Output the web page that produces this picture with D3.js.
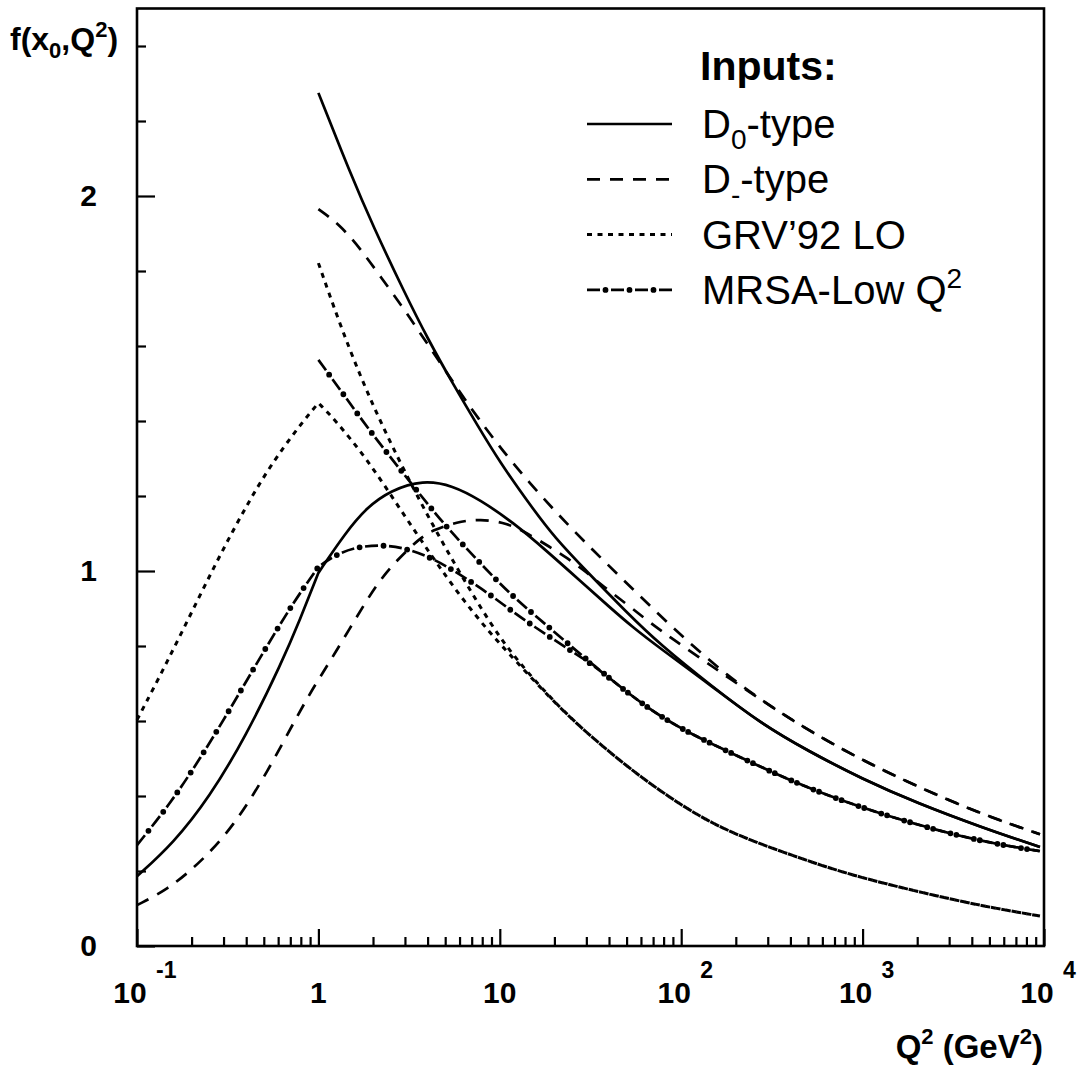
<!DOCTYPE html>
<html>
<head>
<meta charset="utf-8">
<script src="https://cdn.jsdelivr.net/npm/d3@7"></script>
<style>
  html, body { margin: 0; padding: 0; background: #fff; }
  text { font-family: "Liberation Sans", Arial, Helvetica, sans-serif; fill: #000; }
</style>
</head>
<body>
<div id="chart"></div>
<script>
// Q^2 (GeV^2), f(x0,Q^2)
const d0Upper = [[1, 2.275], [1.5, 2.06], [2, 1.92], [3, 1.74], [4, 1.62], [5.5, 1.50], [7.5, 1.39], [10, 1.29],
  [15, 1.17], [20, 1.09], [30, 1.0], [50, 0.89], [76, 0.805], [150, 0.69], [272, 0.595], [500, 0.52], [1000, 0.445],
  [2000, 0.381], [4613, 0.315], [9500, 0.264]];
const d0Lower = [[0.1, 0.186], [0.158, 0.273], [0.251, 0.397], [0.398, 0.559], [0.631, 0.758], [0.794, 0.872],
  [1, 0.995], [1.4, 1.10], [1.85, 1.17], [2.5, 1.215], [3.77, 1.243], [5.5, 1.228], [7.78, 1.19], [11.8, 1.13],
  [18, 1.055], [28, 0.972], [40, 0.905], [54, 0.85], [76, 0.795], [150, 0.69], [272, 0.595], [500, 0.52],
  [1000, 0.445], [2000, 0.381], [4613, 0.315], [9500, 0.264]];
const dmUpper = [[1, 1.965], [1.3, 1.925], [1.69, 1.862], [2.2, 1.785], [3, 1.695], [4, 1.605], [5.5, 1.505],
  [7.5, 1.41], [11.8, 1.285], [21.5, 1.144], [32.7, 1.055], [50, 0.968], [76, 0.882], [116, 0.80], [179, 0.722],
  [272, 0.658], [500, 0.575], [1000, 0.495], [2000, 0.425], [4613, 0.35], [9500, 0.298]];
const dmLower = [[0.1, 0.109], [0.146, 0.149], [0.222, 0.221], [0.338, 0.317], [0.521, 0.461], [0.793, 0.629],
  [1, 0.71], [1.2, 0.771], [1.85, 0.923], [2.19, 0.976], [2.71, 1.029], [3.63, 1.088], [4.28, 1.109], [5.81, 1.131],
  [7.78, 1.139], [11, 1.128], [14.1, 1.101], [18.9, 1.064], [23.5, 1.035], [30, 0.997], [37, 0.96], [50, 0.912],
  [65, 0.868], [83, 0.83], [102, 0.80], [139, 0.755], [179, 0.718], [272, 0.658], [500, 0.575], [1000, 0.495],
  [2000, 0.425], [4613, 0.35], [9500, 0.298]];
const grvUpper = [[1, 1.821], [1.3, 1.664], [1.7, 1.52], [2.19, 1.40], [3, 1.263], [4.28, 1.121], [6, 0.996],
  [8.8, 0.862], [12, 0.77], [21.5, 0.632], [37, 0.531], [60, 0.45], [100, 0.375], [160, 0.318], [272, 0.272],
  [493, 0.228], [851, 0.19], [2000, 0.145], [4613, 0.106], [9500, 0.080]];
const grvLower = [[0.1, 0.603], [0.146, 0.755], [0.222, 0.935], [0.338, 1.11], [0.521, 1.27], [0.793, 1.39],
  [1, 1.448], [1.2, 1.41], [1.85, 1.30], [2.82, 1.165], [4.28, 1.035], [6, 0.935], [8.8, 0.835], [12, 0.765],
  [21.5, 0.632], [37, 0.531], [60, 0.45], [100, 0.375], [160, 0.318], [272, 0.272], [493, 0.228], [851, 0.19],
  [2000, 0.145], [4613, 0.106], [9500, 0.080]];
const mrsaUpper = [[1, 1.563], [1.37, 1.472], [1.96, 1.368], [2.86, 1.267], [4.17, 1.168], [5.1, 1.117],
  [7.78, 1.021], [11.8, 0.931], [18.9, 0.848], [25, 0.797], [32.7, 0.75], [50, 0.677], [76, 0.613], [116, 0.563],
  [179, 0.52], [321, 0.462], [561, 0.412], [1005, 0.368], [1780, 0.331], [3230, 0.296], [5860, 0.269], [9500, 0.253]];
const mrsaLower = [[0.1, 0.269], [0.15, 0.375], [0.22, 0.495], [0.33, 0.636], [0.5, 0.786], [0.72, 0.913],
  [1, 1.011], [1.28, 1.048], [1.74, 1.067], [2.36, 1.069], [3.1, 1.059], [4.2, 1.035], [5.5, 1.003], [7.1, 0.968],
  [9.2, 0.931], [11.8, 0.891], [15, 0.856], [25, 0.785], [32.7, 0.75], [50, 0.677], [76, 0.613], [116, 0.563],
  [179, 0.52], [321, 0.462], [561, 0.412], [1005, 0.368], [1780, 0.331], [3230, 0.296], [5860, 0.269], [9500, 0.253]];

const legendLabels = ["D0-type", "D--type", "GRV’92 LO", "MRSA-Low Q2"];
const yMajor = [0, 1, 2];
const yMinor = [0.2, 0.4, 0.6, 0.8, 1.2, 1.4, 1.6, 1.8, 2.2, 2.4];
const xDecades = [0.1, 1, 10, 100, 1000, 10000];
const xLabels = [["10", "-1"], ["1", ""], ["10", ""], ["10", "2"], ["10", "3"], ["10", "4"]];

const width = 1088, height = 1071;
const x = d3.scaleLog().domain([0.1, 1e4]).range([137, 1044]);
const y = d3.scaleLinear().domain([0, 2.5]).range([946, 8.5]);

const svg = d3.select("#chart").append("svg")
    .attr("width", width).attr("height", height)
    .attr("viewBox", [0, 0, width, height]);

const styles = {
    solid:   { dash: null, w: 2.7 },
    dashed:  { dash: "13 10", w: 2.7 },
    dotted:  { dash: "5 5.5", w: 3 },
    dashdot: { dash: "13 11", w: 2.7, dots: true }
};

const series = [
    { data: d0Upper, style: "solid" },
    { data: d0Lower, style: "solid" },
    { data: dmUpper, style: "dashed" },
    { data: dmLower, style: "dashed" },
    { data: grvUpper, style: "dotted" },
    { data: grvLower, style: "dotted" },
    { data: mrsaUpper, style: "dashdot" },
    { data: mrsaLower, style: "dashdot" }
];

const line = d3.line()
    .x(d => x(d[0]))
    .y(d => y(d[1]))
    .curve(d3.curveBasis);

// curves that start below Q0^2 = 1 bend there, so build the two halves apart
const pathFor = (pts) => {
    const lo = pts.filter(d => d[0] <= 1);
    const hi = pts.filter(d => d[0] >= 1);
    if (lo.length > 1 && hi.length > 1) return line(lo) + line(hi).replace(/^M/, "L");
    return line(pts);
};

const drawStyled = (g, d, style) => {
    const s = styles[style];
    g.append("path")
        .attr("d", d)
        .attr("fill", "none")
        .attr("stroke", "#000")
        .attr("stroke-width", s.w)
        .attr("stroke-dasharray", s.dash);
    if (s.dots) {
        g.append("path")
            .attr("d", d)
            .attr("fill", "none")
            .attr("stroke", "#000")
            .attr("stroke-width", 5.8)
            .attr("stroke-linecap", "round")
            .attr("stroke-dasharray", "0 24")
            .attr("stroke-dashoffset", 5.5);
    }
};

const curves = svg.append("g").attr("class", "curves");
series.forEach(s => drawStyled(curves.append("g"), pathFor(s.data), s.style));

// axes: ticks point inwards
const axes = svg.append("g").attr("class", "axes");

axes.append("g")
    .attr("transform", `translate(${x.range()[0]},0)`)
    .call(d3.axisLeft(y).tickValues(yMinor).tickSize(-9).tickFormat(""))
    .call(g => g.select(".domain").remove());

axes.append("g")
    .attr("transform", `translate(${x.range()[0]},0)`)
    .call(d3.axisLeft(y).tickValues(yMajor).tickSize(-18).tickPadding(40).tickFormat(d3.format("d")))
    .call(g => g.select(".domain").remove())
    .call(g => g.selectAll("text")
        .attr("font-size", 30).attr("font-weight", "bold")
        .attr("font-family", "Liberation Sans, Arial, sans-serif"));

const xMinor = [];
for (let i = 0; i < xDecades.length - 1; i++) {
    for (let k = 2; k <= 9; k++) xMinor.push(xDecades[i] * k);
}

axes.append("g")
    .attr("transform", `translate(0,${y.range()[0]})`)
    .call(d3.axisBottom(x).tickValues(xMinor).tickSize(-9).tickFormat(""))
    .call(g => g.select(".domain").remove());

axes.append("g")
    .attr("transform", `translate(0,${y.range()[0]})`)
    .call(d3.axisBottom(x).tickValues(xDecades).tickSize(-17).tickFormat(""))
    .call(g => g.select(".domain").remove());

axes.selectAll(".tick line").attr("stroke", "#000").attr("stroke-width", 2.2);

// frame
svg.append("rect")
    .attr("x", x.range()[0]).attr("y", y.range()[1])
    .attr("width", x.range()[1] - x.range()[0])
    .attr("height", y.range()[0] - y.range()[1])
    .attr("fill", "none").attr("stroke", "#000").attr("stroke-width", 2.6);

// x tick labels
xDecades.forEach((v, i) => {
    const [base, exp] = xLabels[i];
    const px = x(v);
    svg.append("text")
        .attr("x", exp ? px - 7 : px).attr("y", 1003)
        .attr("text-anchor", "middle")
        .attr("font-size", 30).attr("font-weight", "bold")
        .text(base);
    if (exp) {
        svg.append("text")
            .attr("x", px + 19).attr("y", 978)
            .attr("font-size", 23).attr("font-weight", "bold")
            .text(exp);
    }
});

// axis titles
const yTitle = svg.append("text")
    .attr("x", 10).attr("y", 50)
    .attr("font-size", 32).attr("font-weight", "bold");
yTitle.append("tspan").text("f(x");
yTitle.append("tspan").attr("font-size", 22).attr("dy", 8).text("0");
yTitle.append("tspan").attr("dy", -8).text(",Q");
yTitle.append("tspan").attr("font-size", 22).attr("dy", -13).text("2");
yTitle.append("tspan").attr("dy", 13).text(")");

const xTitle = svg.append("text")
    .attr("x", 1043).attr("y", 1058)
    .attr("text-anchor", "end")
    .attr("font-size", 33).attr("font-weight", "bold");
xTitle.append("tspan").text("Q");
xTitle.append("tspan").attr("font-size", 22).attr("dy", -14).text("2");
xTitle.append("tspan").attr("dy", 14).text(" (GeV");
xTitle.append("tspan").attr("font-size", 22).attr("dy", -14).text("2");
xTitle.append("tspan").attr("dy", 14).text(")");

// legend
const legend = svg.append("g").attr("class", "legend");
legend.append("text")
    .attr("x", 700).attr("y", 80)
    .attr("font-size", 41).attr("font-weight", "bold")
    .text("Inputs:");

const legendStyles = ["solid", "dashed", "dotted", "dashdot"];
legendStyles.forEach((st, i) => {
    const cy = 124 + i * 55.3;
    drawStyled(legend.append("g"), `M587,${cy}L672,${cy}`, st);
    const t = legend.append("text")
        .attr("x", 702).attr("y", cy + 14)
        .attr("font-size", 40);
    const lab = legendLabels[i];
    if (i === 0) {
        t.append("tspan").text("D");
        t.append("tspan").attr("font-size", 28).attr("dy", 11).text("0");
        t.append("tspan").attr("dy", -11).text("-type");
    } else if (i === 1) {
        t.append("tspan").text("D");
        t.append("tspan").attr("font-size", 28).attr("dy", 11).text("-");
        t.append("tspan").attr("dy", -11).text("-type");
    } else if (i === 3) {
        t.append("tspan").text(lab.slice(0, -1));
        t.append("tspan").attr("font-size", 28).attr("dy", -16).text("2");
    } else {
        t.text(lab);
    }
});
</script>
</body>
</html>
